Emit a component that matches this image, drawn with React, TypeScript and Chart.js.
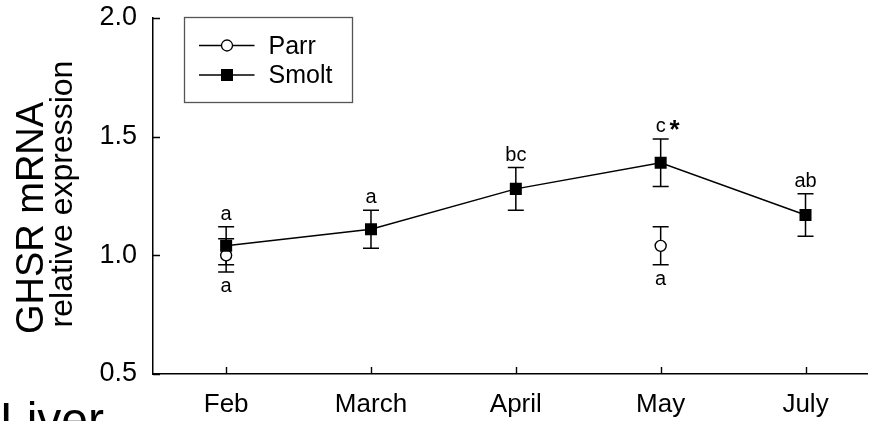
import React, { useEffect, useRef } from 'react';
import { Chart, registerables } from 'chart.js';

Chart.register(...registerables);

const months = ['Feb', 'March', 'April', 'May', 'July'];
const smoltMean = [1.04, 1.11, 1.28, 1.39, 1.17];
const smoltErr = [0.08, 0.08, 0.09, 0.1, 0.09];
const parrMean: (number | null)[] = [1.0, null, null, 1.04, null];
const parrErr: (number | null)[] = [0.07, null, null, 0.08, null];
const smoltLetters = ['a', 'a', 'bc', 'c', 'ab'];
const parrLetters = ['a', '', '', 'a', ''];
const smoltStars = ['', '', '', '*', ''];
const yTicks = [0.5, 1.0, 1.5, 2.0];
const yTitle = ['GHSR mRNA', 'relative expression'];
const panelLabel = 'Liver';
const seriesNames = ['Parr', 'Smolt'];

const FONT = '"Liberation Sans", Arial, Helvetica, sans-serif';

const overlayPlugin = {
  id: 'overlay',
  beforeDatasetsDraw(chart: any) {
    const { ctx, scales } = chart;
    const x = scales.x;
    const y = scales.y;
    ctx.save();
    ctx.strokeStyle = '#000';
    ctx.lineWidth = 1.5;
    const drawErr = (i: number, m: number, e: number) => {
      const px = x.getPixelForValue(i);
      const top = y.getPixelForValue(m + e);
      const bot = y.getPixelForValue(m - e);
      ctx.beginPath();
      ctx.moveTo(px, top);
      ctx.lineTo(px, bot);
      ctx.moveTo(px - 8, top);
      ctx.lineTo(px + 8, top);
      ctx.moveTo(px - 8, bot);
      ctx.lineTo(px + 8, bot);
      ctx.stroke();
    };
    parrMean.forEach((m, i) => {
      if (m !== null && parrErr[i] !== null) drawErr(i, m, parrErr[i] as number);
    });
    smoltMean.forEach((m, i) => drawErr(i, m, smoltErr[i]));
    ctx.restore();
  },
  afterDraw(chart: any) {
    const { ctx, scales, chartArea } = chart;
    const x = scales.x;
    const y = scales.y;
    ctx.save();
    // inward tick marks
    ctx.strokeStyle = '#000';
    ctx.lineWidth = 1.4;
    ctx.beginPath();
    yTicks.forEach((v) => {
      const py = Math.round(y.getPixelForValue(v)) + 0.5;
      ctx.moveTo(chartArea.left, py);
      ctx.lineTo(chartArea.left + 7, py);
    });
    months.forEach((_, i) => {
      const px = Math.round(x.getPixelForValue(i)) + 0.5;
      ctx.moveTo(px, chartArea.bottom);
      ctx.lineTo(px, chartArea.bottom - 7);
    });
    ctx.stroke();

    // significance letters
    ctx.fillStyle = '#000';
    ctx.textAlign = 'center';
    ctx.textBaseline = 'alphabetic';
    ctx.font = `20px ${FONT}`;
    smoltMean.forEach((m, i) => {
      const px = x.getPixelForValue(i);
      const py = y.getPixelForValue(m + smoltErr[i]) - 7;
      ctx.fillText(smoltLetters[i], px, py);
      if (smoltStars[i]) {
        ctx.font = `bold 26px ${FONT}`;
        ctx.fillText(smoltStars[i], px + 14, py + 6);
        ctx.font = `20px ${FONT}`;
      }
    });
    parrMean.forEach((m, i) => {
      if (m === null || !parrLetters[i]) return;
      const px = x.getPixelForValue(i);
      const py = y.getPixelForValue(m - (parrErr[i] as number)) + 20;
      ctx.fillText(parrLetters[i], px, py);
    });

    // legend
    const bx = chartArea.left + 31.5;
    const by = chartArea.top - 0.5;
    ctx.strokeStyle = '#555';
    ctx.lineWidth = 1.3;
    ctx.strokeRect(bx, by, 168, 85);
    const rows = [by + 28, by + 57.5];
    rows.forEach((ry, k) => {
      ctx.strokeStyle = '#000';
      ctx.lineWidth = 1.3;
      ctx.beginPath();
      ctx.moveTo(bx + 14.5, ry);
      ctx.lineTo(bx + 70, ry);
      ctx.stroke();
      const cx = bx + 42.5;
      if (k === 0) {
        ctx.beginPath();
        ctx.arc(cx, ry, 5.5, 0, Math.PI * 2);
        ctx.fillStyle = '#fff';
        ctx.fill();
        ctx.stroke();
      } else {
        ctx.fillStyle = '#000';
        ctx.fillRect(cx - 6, ry - 6, 12, 12);
      }
      ctx.fillStyle = '#000';
      ctx.textAlign = 'left';
      ctx.textBaseline = 'alphabetic';
      ctx.font = `25px ${FONT}`;
      ctx.fillText(seriesNames[k], bx + 84, ry + 8);
    });

    // y title
    ctx.textAlign = 'center';
    ctx.textBaseline = 'alphabetic';
    ctx.fillStyle = '#000';
    const titleSpec = [
      { size: 38, base: 43, cy: 218 },
      { size: 32, base: 72, cy: 194 },
    ];
    titleSpec.forEach((t, k) => {
      ctx.save();
      ctx.font = `${t.size}px ${FONT}`;
      ctx.translate(t.base, t.cy);
      ctx.rotate(-Math.PI / 2);
      ctx.fillText(yTitle[k], 0, 0);
      ctx.restore();
    });

    // panel label
    ctx.font = `48px ${FONT}`;
    ctx.textAlign = 'left';
    ctx.fillText(panelLabel, 0, 436);
    ctx.restore();
  },
};

export default function App() {
  const ref = useRef<HTMLCanvasElement>(null);
  useEffect(() => {
    if (!ref.current) return;
    const chart = new Chart(ref.current, {
      type: 'scatter',
      data: {
        datasets: [
          {
            label: seriesNames[1],
            data: smoltMean.map((v, i) => ({ x: i, y: v })),
            showLine: true,
            borderColor: '#000',
            borderWidth: 1.5,
            pointStyle: 'rect',
            pointRadius: 8.5,
            pointBackgroundColor: '#000',
            pointBorderColor: '#000',
            pointBorderWidth: 0,
            order: 0,
          },
          {
            label: seriesNames[0],
            data: parrMean
              .map((v, i) => (v === null ? null : { x: i, y: v }))
              .filter((p) => p !== null) as any,
            showLine: false,
            pointStyle: 'circle',
            pointRadius: 5.5,
            pointBackgroundColor: '#fff',
            pointBorderColor: '#000',
            pointBorderWidth: 1.4,
            order: 1,
          },
        ],
      },
      options: {
        animation: false,
        responsive: false,
        maintainAspectRatio: false,
        layout: { padding: { top: 18, left: 0, right: 0, bottom: 0 } },
        plugins: { legend: { display: false }, tooltip: { enabled: false } },
        scales: {
          x: {
            type: 'linear',
            min: -0.505,
            max: 4.428,
            afterBuildTicks: (s: any) => {
              s.ticks = months.map((_, i) => ({ value: i }));
            },
            afterFit: (s: any) => {
              s.height = 47;
              s.paddingLeft = 0;
              s.paddingRight = 0;
            },
            ticks: {
              callback: (v: any) => months[Number(v)] ?? '',
              font: { family: FONT, size: 26 },
              color: '#000',
              padding: 15,
              maxRotation: 0,
              autoSkip: false,
            },
            grid: { display: false, drawTicks: false },
            border: { display: true, color: '#000', width: 1.5 },
          },
          y: {
            type: 'linear',
            min: 0.5,
            max: 2.0,
            afterBuildTicks: (s: any) => {
              s.ticks = yTicks.map((v) => ({ value: v }));
            },
            afterFit: (s: any) => {
              s.width = 153;
              s.paddingTop = 0;
              s.paddingBottom = 0;
            },
            ticks: {
              callback: (v: any) => Number(v).toFixed(1),
              font: { family: FONT, size: 27 },
              color: '#000',
              padding: 16,
            },
            grid: { display: false, drawTicks: false },
            border: { display: true, color: '#000', width: 1.5 },
          },
        },
      },
      plugins: [overlayPlugin],
    });
    return () => chart.destroy();
  }, []);
  return (
    <div style={{ position: 'absolute', left: 0, top: 0, width: 876, height: 421, background: '#fff', overflow: 'hidden' }}>
      <canvas ref={ref} width={876} height={421} style={{ display: 'block' }} />
    </div>
  );
}
